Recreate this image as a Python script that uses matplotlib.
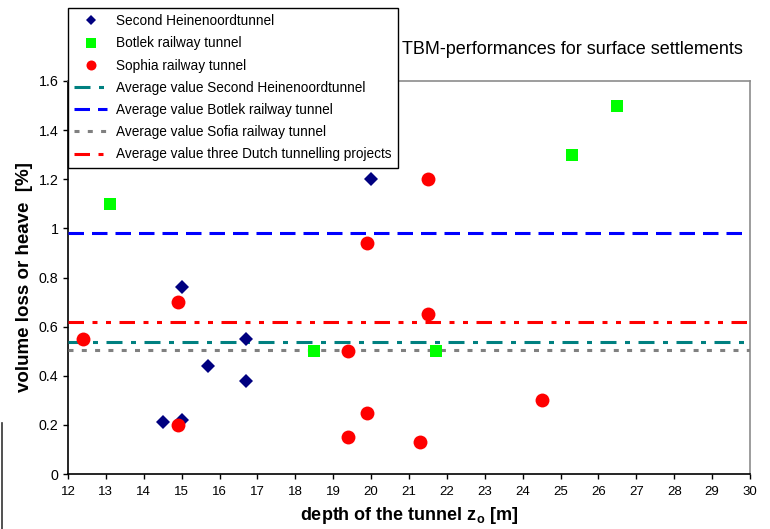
import matplotlib
matplotlib.use("Agg")
import matplotlib.pyplot as plt
from matplotlib.lines import Line2D

plt.rcParams['font.family'] = ['Liberation Sans', 'DejaVu Sans']
plt.rcParams['lines.scale_dashes'] = False

# Data
heinenoord_x = [14.5, 15.0, 15.0, 15.7, 16.7, 16.7, 20.0]
heinenoord_y = [0.21, 0.22, 0.76, 0.44, 0.55, 0.38, 1.20]
botlek_x = [13.1, 18.5, 21.7, 25.3, 26.5]
botlek_y = [1.10, 0.50, 0.50, 1.30, 1.50]
sophia_x = [12.4, 14.9, 14.9, 19.4, 19.4, 19.9, 19.9, 21.3, 21.5, 21.5, 24.5]
sophia_y = [0.55, 0.70, 0.20, 0.50, 0.15, 0.94, 0.25, 0.13, 1.20, 0.65, 0.30]
avg_heinenoord = 0.537
avg_botlek = 0.98
avg_sofia = 0.505
avg_three = 0.62

x_ticks = list(range(12, 31))
y_ticks = [0, 0.2, 0.4, 0.6, 0.8, 1.0, 1.2, 1.4, 1.6]
y_tick_labels = ["0", "0.2", "0.4", "0.6", "0.8", "1", "1.2", "1.4", "1.6"]

W, H = 770, 529
fig = plt.figure(figsize=(W / 100, H / 100), dpi=100)
ax = fig.add_axes([68 / W, 1 - 474 / H, (750 - 68) / W, (474 - 81) / H])

px = 0.72  # points per pixel
navy, lime, red = '#000080', '#00FF00', '#FF0000'
ax.plot(heinenoord_x, heinenoord_y, linestyle='none', marker='D', color=navy,
        markersize=7.6, markeredgewidth=0, zorder=4)
ax.plot(botlek_x, botlek_y, linestyle='none', marker='s', color=lime,
        markersize=9.3, markeredgewidth=0, zorder=4)
ax.plot(sophia_x, sophia_y, linestyle='none', marker='o', color=red,
        markersize=10, markeredgewidth=0, zorder=4)

# legend proxies (smaller markers as in the reference legend)
h1 = Line2D([], [], linestyle='none', marker='D', color=navy, markersize=4.6,
            markeredgewidth=0, label='Second Heinenoordtunnel')
h2 = Line2D([], [], linestyle='none', marker='s', color=lime, markersize=6.8,
            markeredgewidth=0, label='Botlek railway tunnel')
h3 = Line2D([], [], linestyle='none', marker='o', color=red, markersize=7.2,
            markeredgewidth=0, label='Sophia railway tunnel')

lw = 2.2
l1 = ax.axhline(avg_heinenoord, color='#008080', lw=lw,
                dashes=(16 * px, 8.5 * px, 5 * px, 8.5 * px),
                label='Average value Second Heinenoordtunnel', zorder=3)
l2 = ax.axhline(avg_botlek, color='#0000FF', lw=lw,
                dashes=(15.5 * px, 8 * px),
                label='Average value Botlek railway tunnel', zorder=3)
l3 = ax.axhline(avg_sofia, color='#808080', lw=lw,
                dashes=(5 * px, 8.3 * px),
                label='Average value Sofia railway tunnel', zorder=3)
l4 = ax.axhline(avg_three, color='#FF0000', lw=lw,
                dashes=(15.5 * px, 8.5 * px, 5 * px, 8.5 * px, 5 * px, 8.5 * px),
                label='Average value three Dutch tunnelling projects', zorder=3)

ax.set_xlim(12, 30)
ax.set_ylim(0, 1.6)
ax.set_xticks(x_ticks)
ax.set_xticklabels([str(t) for t in x_ticks])
ax.set_yticks(y_ticks)
ax.set_yticklabels(y_tick_labels)
ax.tick_params(axis='both', direction='out', length=3.8, width=1, colors='black')
ax.tick_params(axis='x', labelsize=9.5, pad=5)
ax.tick_params(axis='y', labelsize=10.3, pad=3)
for s in ['top', 'right']:
    ax.spines[s].set_color('#8c8c8c')
    ax.spines[s].set_linewidth(1.2)
for s in ['left', 'bottom']:
    ax.spines[s].set_color('black')
    ax.spines[s].set_linewidth(1.2)

ax.set_xlabel('depth of the tunnel z$_\\mathregular{o}$ [m]', fontsize=13, fontweight='bold', labelpad=5)
ax.set_ylabel('volume loss or heave  [%]', fontsize=13.5, fontweight='bold', labelpad=4)

fig.text(743 / W, 1 - 50 / H, 'TBM-performances for surface settlements',
         ha='right', va='center', fontsize=13)

leg = fig.legend(handles=[h1, h2, h3, l1, l2, l3, l4],
                 loc='upper left', bbox_to_anchor=(68 / W, 1 - 8 / H),
                 bbox_transform=fig.transFigure, borderaxespad=0,
                 fontsize=9.85, frameon=True, fancybox=False, edgecolor='black',
                 framealpha=1, handlelength=2.4, handletextpad=0.65,
                 labelspacing=0.6, borderpad=0.45, numpoints=1)
leg.get_frame().set_linewidth(1.0)

fig.add_artist(Line2D([1.5 / W, 1.5 / W], [0, 1 - 423 / H], transform=fig.transFigure,
                      color='#333333', lw=1.2))

fig.savefig('out.png', dpi=100)
